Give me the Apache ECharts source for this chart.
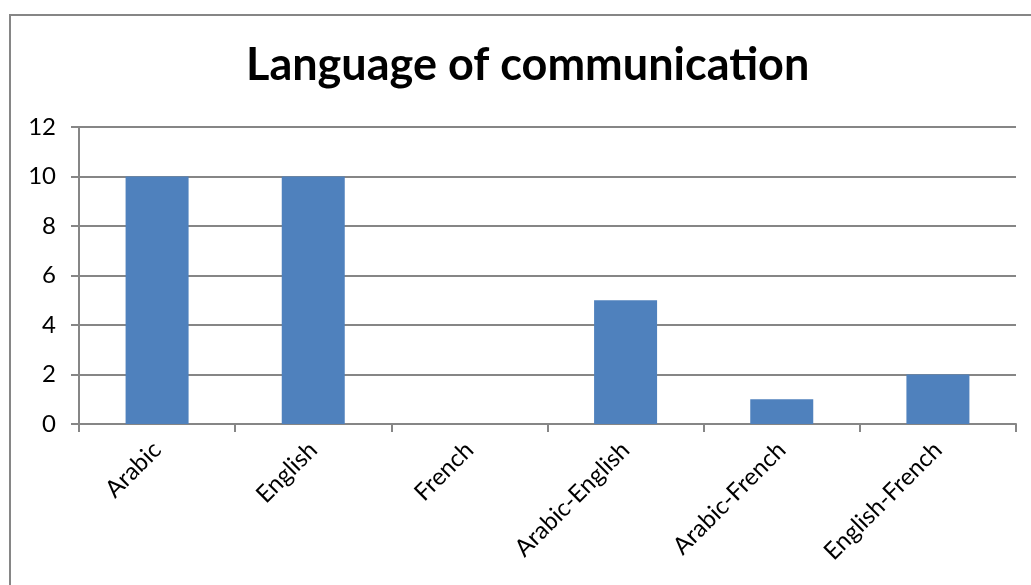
<!DOCTYPE html>
<html>
<head>
<meta charset="utf-8">
<script src="https://cdn.jsdelivr.net/npm/echarts@6/dist/echarts.min.js"></script>
<style>html,body{margin:0;padding:0;background:#fff;}#c{width:1031px;height:585px;}</style>
</head>
<body>
<div id="c"></div>
<script>
const categories = ['Arabic', 'English', 'French', 'Arabic-English', 'Arabic-French', 'English-French'];
const values = [10, 10, 0, 5, 1, 2];
const yTicks = [0, 2, 4, 6, 8, 10, 12];

const chart = echarts.init(document.getElementById('c'));
const font = 'Lato, "Noto Sans", sans-serif';
chart.setOption({
  animation: false,
  backgroundColor: '#fff',
  title: {
    text: 'Language of communication',
    left: 241,
    top: 38,
    textStyle: { fontFamily: font, fontSize: 45, fontWeight: 'bold', color: '#000' }
  },
  graphic: [{
    type: 'rect',
    shape: { x: 10, y: 15, width: 1100, height: 700 },
    style: { fill: 'none', stroke: '#868686', lineWidth: 2 },
    silent: true
  }],
  grid: { left: 79, right: 15, top: 127, bottom: 161, containLabel: false },
  xAxis: {
    type: 'category',
    data: categories,
    axisLine: { show: true, lineStyle: { color: '#868686', width: 2 } },
    axisTick: { show: true, length: 8, lineStyle: { color: '#868686', width: 2 } },
    axisLabel: { rotate: 45, fontFamily: font, fontSize: 24, color: '#000', margin: 22 },
    splitLine: { show: false }
  },
  yAxis: {
    type: 'value',
    min: yTicks[0],
    max: yTicks[yTicks.length - 1],
    interval: 2,
    axisLine: { show: true, lineStyle: { color: '#868686', width: 2 } },
    axisTick: { show: true, length: 8, lineStyle: { color: '#868686', width: 2 } },
    axisLabel: { fontFamily: font, fontSize: 24, color: '#000', margin: 23 },
    splitLine: { show: true, lineStyle: { color: '#868686', width: 2 } }
  },
  series: [{
    type: 'bar',
    data: values,
    barWidth: 63,
    itemStyle: { color: '#4F81BD' }
  }]
});
</script>
</body>
</html>
